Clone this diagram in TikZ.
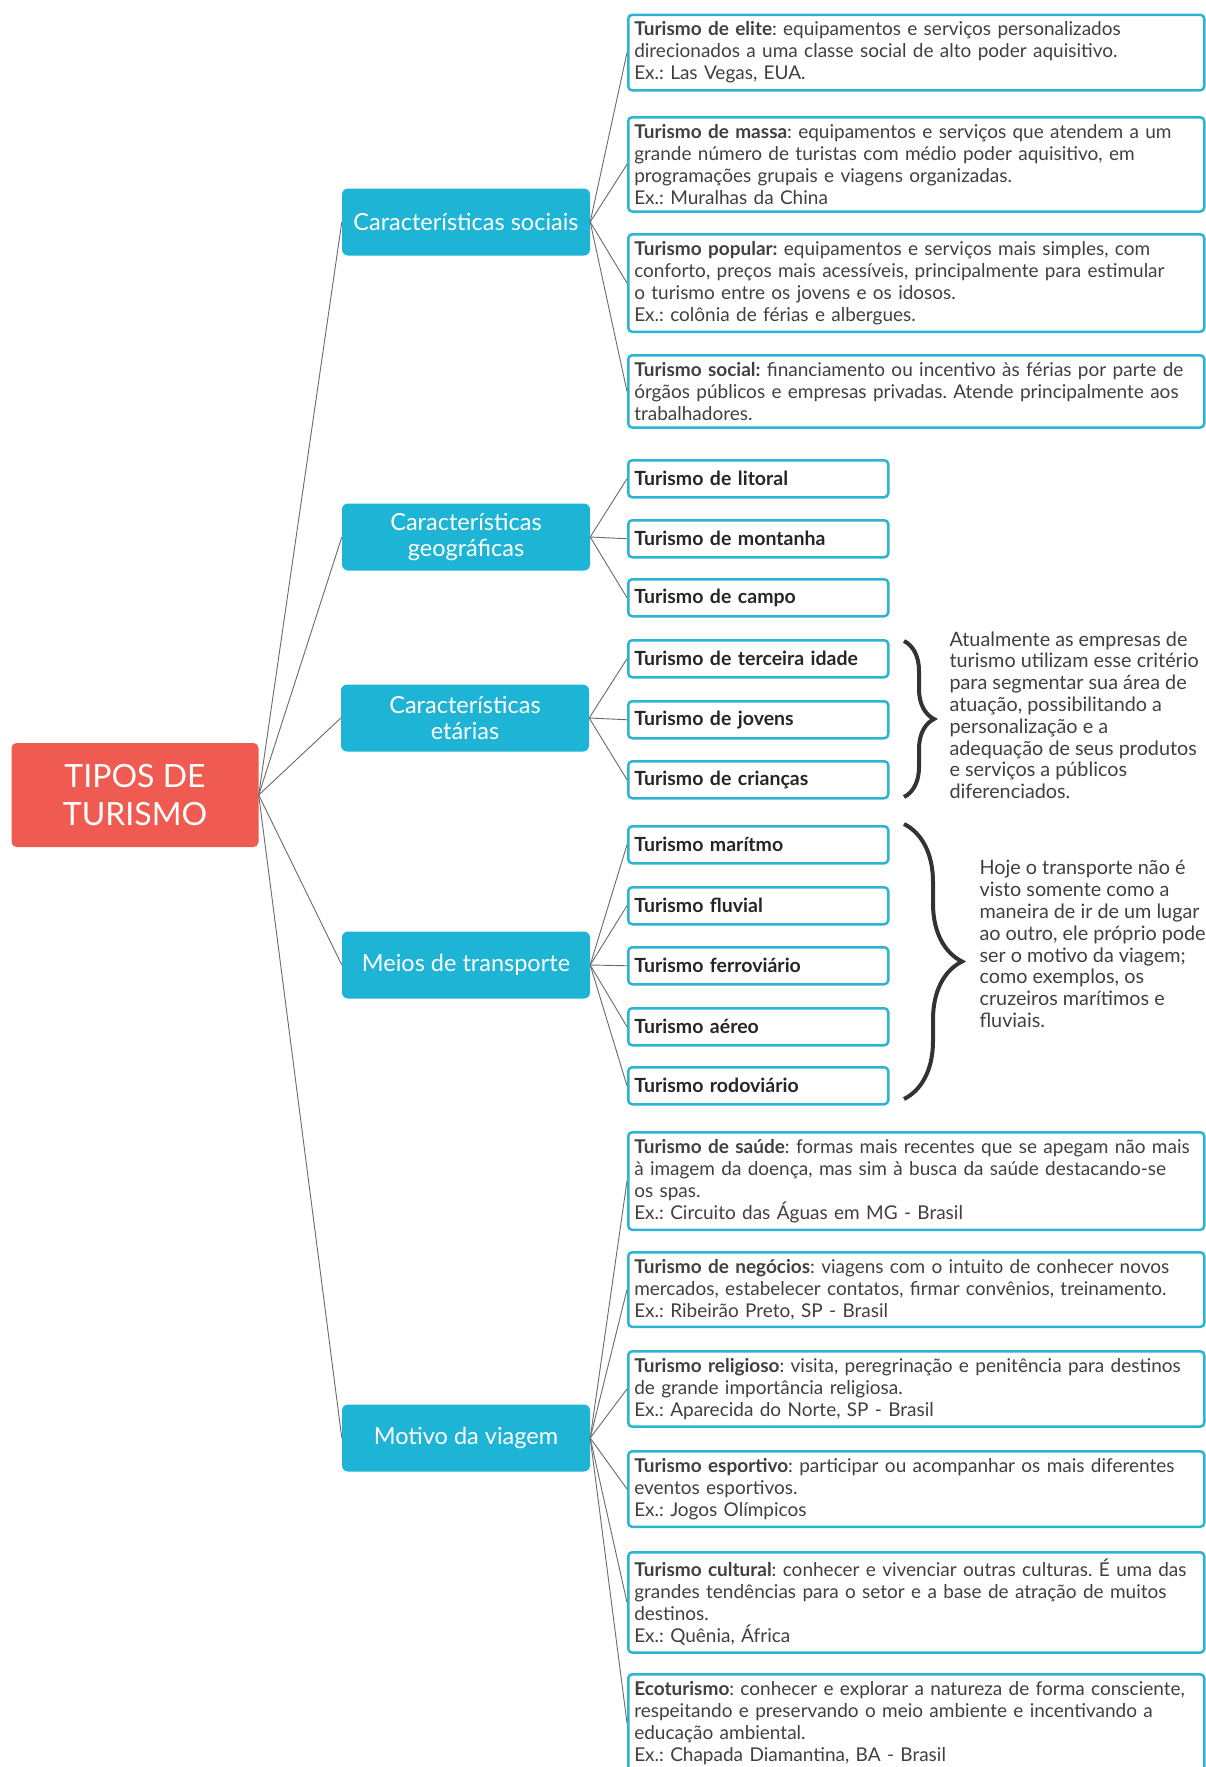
\documentclass[tikz,border=0pt]{standalone}
\usepackage{fontspec}
\setmainfont{Lato}
\usetikzlibrary{decorations.pathreplacing}
\frenchspacing

\definecolor{rootred}{HTML}{EF5B51}
\definecolor{catblue}{HTML}{1DB4D5}
\definecolor{boxblue}{HTML}{2BB5D3}
\definecolor{txtgray}{HTML}{404040}
\definecolor{linegray}{HTML}{6A6A6A}

\tikzset{
  rootbox/.style={fill=rootred, rounded corners=5pt, text=white, minimum width=247pt, minimum height=104pt, align=center, font=\fontsize{32}{38}\selectfont},
  catbox/.style={fill=catblue, rounded corners=6pt, text=white, minimum width=248pt, minimum height=67pt, align=center, font=\fontsize{23.5}{26}\selectfont},
  infobox/.style={draw=boxblue, line width=2.5pt, rounded corners=4pt, fill=white, anchor=north west, text width=564pt, inner xsep=6pt, inner ysep=7pt, align=left, text=txtgray, font=\fontsize{19}{22}\selectfont},
  tagbox/.style={draw=boxblue, line width=2.5pt, rounded corners=4pt, fill=white, anchor=north west, text width=248pt, minimum height=37pt, inner xsep=6pt, align=left, text=black!85, font=\bfseries\fontsize{19.5}{22}\selectfont},
  link/.style={draw=linegray, line width=0.9pt},
  sidenote/.style={anchor=north west, align=left, text=txtgray, font=\fontsize{19.8}{21.8}\selectfont},
  bigbrace/.style={decorate, draw=black!80, line width=4pt},
}

\begin{document}
\begin{tikzpicture}[x=1pt, y=-1pt]
\useasboundingbox[fill=white] (0,0) rectangle (1205,1767);

% raiz
\node (root) [at={(135,795)}, rootbox] {TIPOS DE\\TURISMO};

% categorias
\node (soc) [at={(466,222)}, catbox] {Características sociais};
\node (geo) [at={(466,537)}, catbox] {Características\\geográficas};
\node (eta) [at={(465,718)}, catbox] {Características\\etárias};
\node (tra) [at={(466,965)}, catbox] {Meios de transporte};
\node (mot) [at={(466,1438)}, catbox] {Motivo da viagem};

% caracteristicas sociais
\node (elite) [at={(627,13.5)}, infobox] {\textbf{Turismo de elite}: equipamentos e serviços personalizados\\direcionados a uma classe social de alto poder aquisitivo.\\Ex.: Las Vegas, EUA.};
\node (massa) [at={(627,116)}, infobox] {\textbf{Turismo de massa}: equipamentos e serviços que atendem a um\\grande número de turistas com médio poder aquisitivo, em\\programações grupais e viagens organizadas.\\Ex.: Muralhas da China};
\node (popular) [at={(627,233)}, infobox] {\textbf{Turismo popular:} equipamentos e serviços mais simples, com\\conforto, preços mais acessíveis, principalmente para estimular\\o turismo entre os jovens e os idosos.\\Ex.: colônia de férias e albergues.};
\node (social) [at={(627,354)}, infobox] {\textbf{Turismo social:} financiamento ou incentivo às férias por parte de\\órgãos públicos e empresas privadas. Atende principalmente aos\\trabalhadores.};

% caracteristicas geograficas
\node (litoral) [at={(627,459)}, tagbox] {Turismo de litoral};
\node (montanha) [at={(627,519)}, tagbox] {Turismo de montanha};
\node (campo) [at={(627,578)}, tagbox] {Turismo de campo};

% caracteristicas etarias
\node (terceira) [at={(627,639)}, tagbox] {Turismo de terceira idade};
\node (jovens) [at={(627,700)}, tagbox] {Turismo de jovens};
\node (criancas) [at={(627,760)}, tagbox] {Turismo de crianças};

% meios de transporte
\node (maritimo) [at={(627,825)}, tagbox] {Turismo marítmo};
\node (fluvial) [at={(627,886)}, tagbox] {Turismo fluvial};
\node (ferro) [at={(627,946)}, tagbox] {Turismo ferroviário};
\node (aereo) [at={(627,1007)}, tagbox] {Turismo aéreo};
\node (rodo) [at={(627,1066)}, tagbox] {Turismo rodoviário};

% motivo da viagem
\node (saude) [at={(627,1131)}, infobox] {\textbf{Turismo de saúde}: formas mais recentes que se apegam não mais\\à imagem da doença, mas sim à busca da saúde destacando-se\\os spas.\\Ex.: Circuito das Águas em MG - Brasil};
\node (negocios) [at={(627,1251)}, infobox] {\textbf{Turismo de negócios}: viagens com o intuito de conhecer novos\\mercados, estabelecer contatos, firmar convênios, treinamento.\\Ex.: Ribeirão Preto, SP - Brasil};
\node (religioso) [at={(627,1350)}, infobox] {\textbf{Turismo religioso}: visita, peregrinação e penitência para destinos\\de grande importância religiosa.\\Ex.: Aparecida do Norte, SP - Brasil};
\node (esportivo) [at={(627,1450)}, infobox] {\textbf{Turismo esportivo}: participar ou acompanhar os mais diferentes\\eventos esportivos.\\Ex.: Jogos Olímpicos};
\node (cultural) [at={(627,1551)}, infobox] {\textbf{Turismo cultural}: conhecer e vivenciar outras culturas. É uma das\\grandes tendências para o setor e a base de atração de muitos\\destinos.\\Ex.: Quênia, África};
\node (eco) [at={(627,1673)}, infobox] {\textbf{Ecoturismo}: conhecer e explorar a natureza de forma consciente,\\respeitando e preservando o meio ambiente e incentivando a\\educação ambiental.\\Ex.: Chapada Diamantina, BA - Brasil};

% ligacoes
\draw[link] (root.east) -- (soc.west);
\draw[link] (root.east) -- (geo.west);
\draw[link] (root.east) -- (eta.west);
\draw[link] (root.east) -- (tra.west);
\draw[link] (root.east) -- (mot.west);
\draw[link] (soc.east) -- (elite.west);
\draw[link] (soc.east) -- (massa.west);
\draw[link] (soc.east) -- (popular.west);
\draw[link] (soc.east) -- (social.west);
\draw[link] (geo.east) -- (litoral.west);
\draw[link] (geo.east) -- (montanha.west);
\draw[link] (geo.east) -- (campo.west);
\draw[link] (eta.east) -- (terceira.west);
\draw[link] (eta.east) -- (jovens.west);
\draw[link] (eta.east) -- (criancas.west);
\draw[link] (tra.east) -- (maritimo.west);
\draw[link] (tra.east) -- (fluvial.west);
\draw[link] (tra.east) -- (ferro.west);
\draw[link] (tra.east) -- (aereo.west);
\draw[link] (tra.east) -- (rodo.west);
\draw[link] (mot.east) -- (saude.west);
\draw[link] (mot.east) -- (negocios.west);
\draw[link] (mot.east) -- (religioso.west);
\draw[link] (mot.east) -- (esportivo.west);
\draw[link] (mot.east) -- (cultural.west);
\draw[link] (mot.east) -- (eco.west);

% chaves e notas
\coordinate (b1top) at (904,641);
\coordinate (b1bot) at (904,797);
\coordinate (b2top) at (904,824);
\coordinate (b2bot) at (904,1099);
\draw[bigbrace, decoration={brace, amplitude=30pt}] (b1top) -- (b1bot);
\draw[bigbrace, decoration={brace, amplitude=58pt}] (b2top) -- (b2bot);
\node (nota1) [at={(946,628)}, sidenote] {Atualmente as empresas de\\turismo utilizam esse critério\\para segmentar sua área de\\atuação, possibilitando a\\personalização e a\\adequação de seus produtos\\e serviços a públicos\\diferenciados.};
\node (nota2) [at={(976,857)}, sidenote] {Hoje o transporte não é\\visto somente como a\\maneira de ir de um lugar\\ao outro, ele próprio pode\\ser o motivo da viagem;\\como exemplos, os\\cruzeiros marítimos e\\fluviais.};
\end{tikzpicture}
\end{document}
